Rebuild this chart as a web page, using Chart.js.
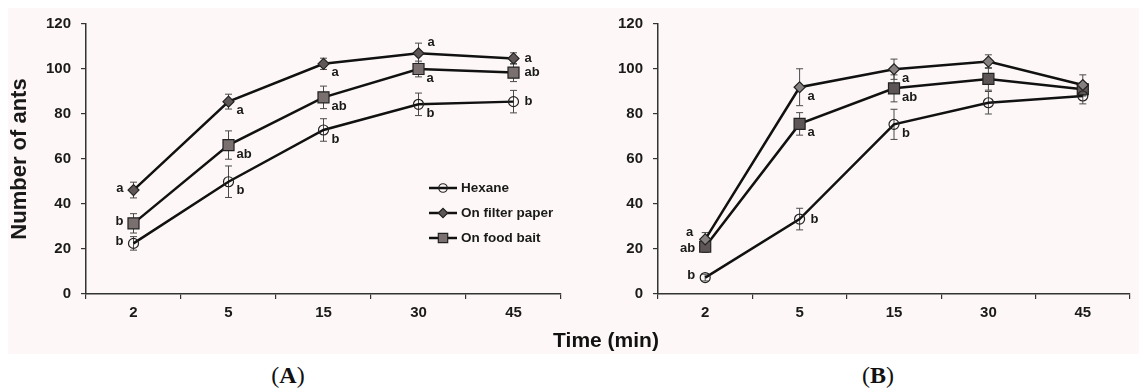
<!DOCTYPE html>
<html>
<head>
<meta charset="utf-8">
<script src="https://cdn.jsdelivr.net/npm/chart.js@4.4.1/dist/chart.umd.min.js"></script>
<style>
  body { margin: 0; background: #fff; width: 1139px; height: 390px; position: relative; overflow: hidden; }
  #bg { position: absolute; left: 8px; top: 8px; width: 1131px; height: 346px; background: #fdf8f7; }
  .box { position: absolute; top: 0; }
  .lbl { position: absolute; text-align: center; color: #111; }
  #xt { left: 506px; top: 328px; width: 200px; font: bold 21px 'Liberation Sans', Arial, sans-serif; line-height: 24px; }
  .panel { top: 362px; width: 100px; font: 24px 'Liberation Serif', 'Times New Roman', serif; line-height: 26px; }
</style>
</head>
<body>
<div id="bg"></div>
<div class="box" style="left:0"><canvas id="chartA" width="570" height="354"></canvas></div>
<div class="box" style="left:570px"><canvas id="chartB" width="569" height="354"></canvas></div>
<div id="xt" class="lbl">Time (min)</div>
<div class="lbl panel" style="left:238px">(<b>A</b>)</div>
<div class="lbl panel" style="left:828px">(<b>B</b>)</div>
<script>
// time points (min)
const times = ['2', '5', '15', '30', '45'];

// panel A - means and errors
const hexaneA = [22.5, 49.9, 72.9, 84.3, 85.5];
const hexaneErrA = [3, 7, 5, 5, 5];
const filterA = [46.2, 85.5, 102.3, 107, 104.7];
const filterErrA = [3.5, 3.3, 2.5, 4.5, 2.5];
const baitA = [31.4, 66.2, 87.4, 100, 98.4];
const baitErrA = [4.3, 6.3, 5, 3.5, 4];

// panel B
const hexaneB = [7.3, 33.3, 75.4, 85, 88];
const hexaneErrB = [1.5, 4.8, 6.7, 5, 3.5];
const filterB = [24.3, 91.9, 99.9, 103.3, 92.9];
const filterErrB = [3, 8.2, 4.5, 3, 4.5];
const baitB = [21, 75.6, 91.4, 95.6, 91];
const baitErrB = [2.5, 5, 6, 5, 3];

// significance letters
const hexLettersA = ['b', 'b', 'b', 'b', 'b'];
const filLettersA = ['a', 'a', 'a', 'a', 'a'];
const baitLettersA = ['b', 'ab', 'ab', 'a', 'ab'];
const hexLettersB = ['b', 'b', 'b', '', ''];
const filLettersB = ['a', 'a', 'a', '', ''];
const baitLettersB = ['ab', 'a', 'ab', '', ''];

// where each letter sits next to its point
const hexPlaceA = ['l', 'rb', 'rb', 'rb', 'r'];
const filPlaceA = ['l', 'rb', 'rb', 'ra', 'r'];
const baitPlaceA = ['l', 'rb', 'rb', 'rb', 'r'];
const hexPlaceB = ['l', 'r', 'rb', '', ''];
const filPlaceB = ['la', 'rb', 'rb', '', ''];
const baitPlaceB = ['l2', 'rb', 'rb', '', ''];

const seriesNames = ['Hexane', 'On filter paper', 'On food bait'];

const FONT = "'Liberation Sans', Arial, sans-serif";
const offsets = {
  l: [-10, -2, 'right'], l2: [-10, 2, 'right'], la: [-12, -7, 'right'],
  r: [11, 0, 'left'], rb: [8, 9, 'left'], ra: [9, -11, 'left']
};

const errorBars = {
  id: 'errorBars',
  beforeDatasetsDraw(chart) {
    const ctx = chart.ctx;
    const xs = chart.scales.x, ys = chart.scales.y;
    ctx.save();
    ctx.strokeStyle = '#4a4a4a';
    ctx.lineWidth = 1;
    chart.data.datasets.forEach(ds => {
      ds.data.forEach((v, i) => {
        const x = xs.getPixelForValue(i);
        const y1 = ys.getPixelForValue(v + ds.err[i]);
        const y2 = ys.getPixelForValue(v - ds.err[i]);
        ctx.beginPath();
        ctx.moveTo(x, y1); ctx.lineTo(x, y2);
        ctx.moveTo(x - 3.5, y1); ctx.lineTo(x + 3.5, y1);
        ctx.moveTo(x - 3.5, y2); ctx.lineTo(x + 3.5, y2);
        ctx.stroke();
      });
    });
    ctx.restore();
  },
  afterDatasetsDraw(chart) {
    const ctx = chart.ctx;
    const xs = chart.scales.x, ys = chart.scales.y;
    ctx.save();
    ctx.fillStyle = '#1a1a1a';
    ctx.font = 'bold 13px ' + FONT;
    ctx.textBaseline = 'middle';
    chart.data.datasets.forEach(ds => {
      ds.letters.forEach((t, i) => {
        if (!t) return;
        const o = offsets[ds.place[i]];
        ctx.textAlign = o[2];
        ctx.fillText(t, xs.getPixelForValue(i) + o[0], ys.getPixelForValue(ds.data[i]) + o[1]);
      });
    });
    ctx.restore();
  }
};

// legend drawn inside panel A
const insideLegend = {
  id: 'insideLegend',
  afterDraw(chart, args, opts) {
    if (!opts.show) return;
    const ctx = chart.ctx;
    ctx.save();
    chart.data.datasets.forEach((ds, i) => {
      const y = 188 + i * 25;
      ctx.strokeStyle = '#111';
      ctx.lineWidth = 2.5;
      ctx.beginPath(); ctx.moveTo(429, y); ctx.lineTo(457, y); ctx.stroke();
      ctx.fillStyle = ds.pointBackgroundColor;
      ctx.strokeStyle = ds.pointBorderColor;
      ctx.lineWidth = 1.2;
      Chart.helpers.drawPoint(ctx, { pointStyle: ds.pointStyle, radius: ds.pointRadius * 0.85, borderWidth: 1.2 }, 443, y);
      ctx.fillStyle = '#1a1a1a';
      ctx.font = 'bold 13.5px ' + FONT;
      ctx.textAlign = 'left';
      ctx.textBaseline = 'middle';
      ctx.fillText(ds.label, 461, y + 0.5);
    });
    ctx.restore();
  }
};

function makeSet(label, values, err, letters, place, style, fill, radius) {
  return {
    label: label, data: values, err: err, letters: letters, place: place,
    borderColor: '#111', borderWidth: 2.5, fill: false, tension: 0,
    pointStyle: style, pointRadius: radius, pointBorderWidth: 1.2,
    pointBackgroundColor: fill, pointBorderColor: '#222'
  };
}

function makeChart(id, sets, withTitle, rightPad, axisWidth, legend) {
  return new Chart(document.getElementById(id), {
    type: 'line',
    data: { labels: times, datasets: sets },
    options: {
      responsive: false,
      animation: false,
      layout: { padding: { top: 24, right: rightPad, left: 0, bottom: 0 } },
      plugins: {
        legend: { display: false },
        tooltip: { enabled: false },
        insideLegend: { show: legend }
      },
      scales: {
        x: {
          offset: true,
          grid: { offset: true, drawOnChartArea: false, tickLength: 5, color: '#333', lineWidth: 1.2 },
          border: { color: '#333', width: 1.5 },
          ticks: { padding: 5, color: '#1a1a1a', font: { family: FONT, size: 15, weight: 'bold' } },
          afterFit(scale) { scale.height = 60; }
        },
        y: {
          min: 0, max: 120,
          ticks: { stepSize: 20, padding: 10, color: '#1a1a1a', font: { family: FONT, size: 15, weight: 'bold' } },
          grid: { drawOnChartArea: false, tickLength: 5, color: '#333', lineWidth: 1.2 },
          border: { color: '#333', width: 1.5 },
          title: {
            display: withTitle, text: 'Number of ants', color: '#1a1a1a',
            font: { family: FONT, size: 22, weight: 'bold' }, padding: { top: 7, bottom: 0 }
          },
          afterFit(scale) { scale.width = axisWidth; }
        }
      }
    },
    plugins: [errorBars, insideLegend]
  });
}

makeChart('chartA', [
  makeSet(seriesNames[0], hexaneA, hexaneErrA, hexLettersA, hexPlaceA, 'circle', 'rgba(0,0,0,0)', 5),
  makeSet(seriesNames[1], filterA, filterErrA, filLettersA, filPlaceA, 'rectRot', '#5f5757', 5.5),
  makeSet(seriesNames[2], baitA, baitErrA, baitLettersA, baitPlaceA, 'rect', '#7a7070', 7.8)
], true, 4, 86, true);

makeChart('chartB', [
  makeSet(seriesNames[0], hexaneB, hexaneErrB, hexLettersB, hexPlaceB, 'circle', 'rgba(0,0,0,0)', 5),
  makeSet(seriesNames[1], filterB, filterErrB, filLettersB, filPlaceB, 'rectRot', '#878080', 5.5),
  makeSet(seriesNames[2], baitB, baitErrB, baitLettersB, baitPlaceB, 'rect', '#5e5656', 7.8)
], false, 3, 88, false);
</script>
</body>
</html>
